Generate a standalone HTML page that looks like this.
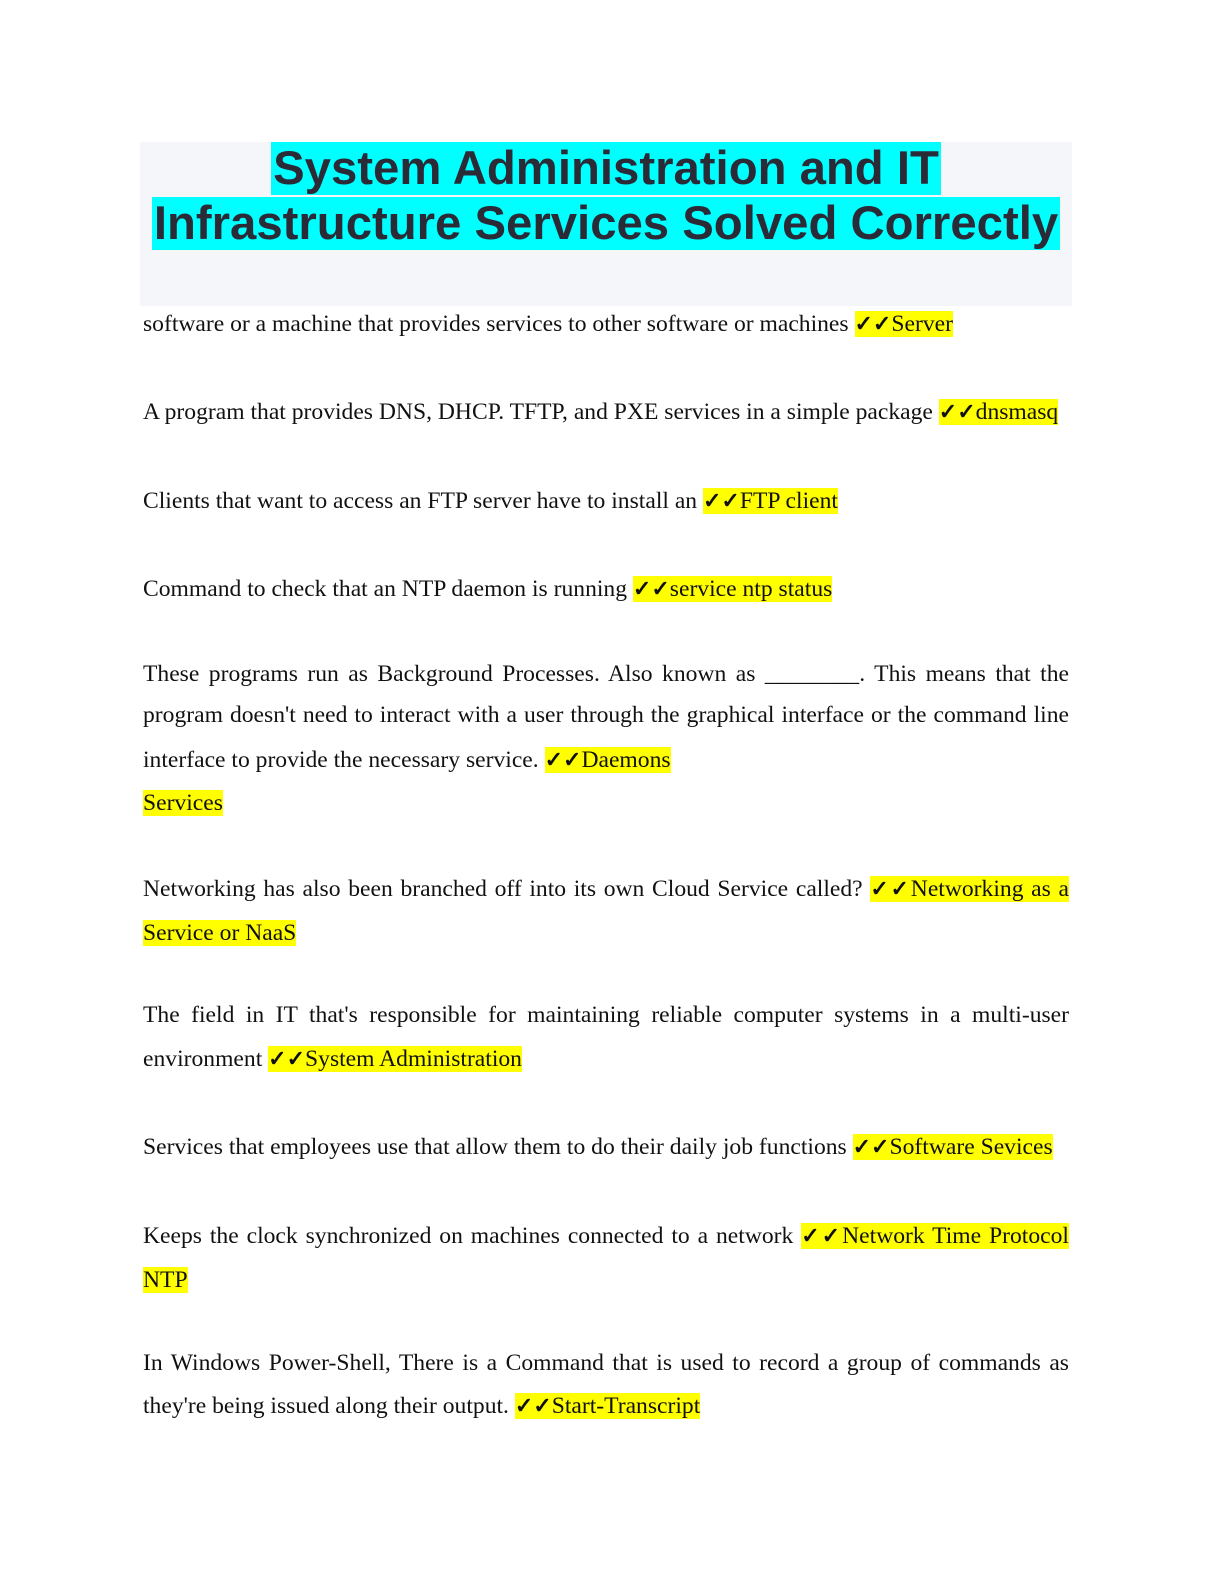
<!DOCTYPE html>
<html><head><meta charset="utf-8"><style>
body{margin:0;background:#fff;}
.page{position:relative;width:1224px;height:1584px;overflow:hidden;}
.tbox{position:absolute;left:140px;top:142px;width:932px;height:164px;background:#f5f6fa;}
.t{position:absolute;left:140px;width:932px;text-align:center;font-family:"Liberation Sans",sans-serif;font-weight:bold;font-size:47.3px;color:#2b2b38;line-height:54px;}
.t span{background:#00ffff;padding:0 2px;}
.l{position:absolute;left:143px;width:926px;font-family:"Liberation Serif",serif;font-size:23.6px;line-height:31px;height:31px;color:#111;white-space:nowrap;}
.j{text-align:justify;text-align-last:justify;white-space:normal;}
.h{background:#ffff00;}
.c{font-family:"DejaVu Sans",sans-serif;font-weight:bold;font-size:22px;-webkit-text-stroke:0.8px #111;}
</style></head><body><div class="page">
<div class="tbox"></div>
<div class="t" style="top:142px"><span>System Administration and IT</span></div>
<div class="t" style="top:197px"><span>Infrastructure Services Solved Correctly</span></div>

<div class="l" style="top:309px">software or a machine that provides services to other software or machines <span class="h"><span class="c">✓✓</span>Server</span></div>
<div class="l" style="top:397px">A program that provides DNS, DHCP. TFTP, and PXE services in a simple package <span class="h"><span class="c">✓✓</span>dnsmasq</span></div>
<div class="l" style="top:486px">Clients that want to access an FTP server have to install an <span class="h"><span class="c">✓✓</span>FTP client</span></div>
<div class="l" style="top:574px">Command to check that an NTP daemon is running <span class="h"><span class="c">✓✓</span>service ntp status</span></div>
<div class="l j" style="top:659px">These programs run as Background Processes. Also known as ________. This means that the</div>
<div class="l j" style="top:700px">program doesn't need to interact with a user through the graphical interface or the command line</div>
<div class="l" style="top:745px">interface to provide the necessary service. <span class="h"><span class="c">✓✓</span>Daemons</span></div>
<div class="l" style="top:788px"><span class="h">Services</span></div>
<div class="l j" style="top:874px">Networking has also been branched off into its own Cloud Service called? <span class="h"><span class="c">✓✓</span>Networking as a</span></div>
<div class="l" style="top:918px"><span class="h">Service or NaaS</span></div>
<div class="l j" style="top:1000px">The field in IT that's responsible for maintaining reliable computer systems in a multi-user</div>
<div class="l" style="top:1044px">environment <span class="h"><span class="c">✓✓</span>System Administration</span></div>
<div class="l" style="top:1132px">Services that employees use that allow them to do their daily job functions <span class="h"><span class="c">✓✓</span>Software Sevices</span></div>
<div class="l j" style="top:1221px">Keeps the clock synchronized on machines connected to a network <span class="h"><span class="c">✓✓</span>Network Time Protocol</span></div>
<div class="l" style="top:1265px"><span class="h">NTP</span></div>
<div class="l j" style="top:1348px">In Windows Power-Shell, There is a Command that is used to record a group of commands as</div>
<div class="l" style="top:1391px">they're being issued along their output. <span class="h"><span class="c">✓✓</span>Start-Transcript</span></div>
</div></body></html>
